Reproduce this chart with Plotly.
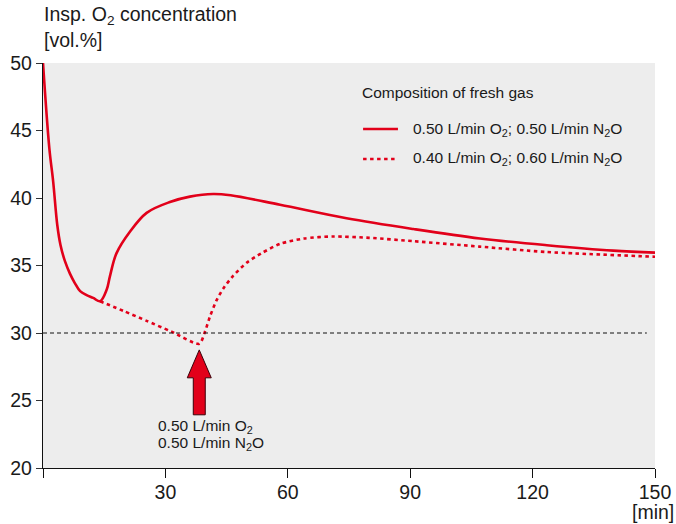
import plotly.graph_objects as go

# Inspired O2 concentration over time for two fresh-gas compositions
t_solid = [0, 1.55, 2.5, 3.5, 4.3, 5.4, 6.6, 7.8, 9.1, 10.7, 12.3, 14.0, 15.6, 16.4, 18.0,
           21.3, 25.4, 31.1, 36.0, 41.7, 46.0, 58.1, 74.4, 90.8, 107.1, 123.5, 139.8, 150]
v_solid = [50, 43.7, 41.2, 38.0, 36.5, 35.3, 34.4, 33.7, 33.1, 32.8, 32.6, 32.35, 33.2, 34.2, 35.9,
           37.5, 38.9, 39.7, 40.1, 40.3, 40.2, 39.5, 38.5, 37.7, 37.0, 36.5, 36.1, 35.95]

t_dot = [14.0, 20.0, 25.4, 31.5, 38.3, 39.7, 40.9, 42.5, 44.2, 46.5, 49.9, 53.5,
         58.1, 64.0, 71.1, 80.0, 90.8, 107.0, 123.4, 150]
v_dot = [32.35, 31.6, 30.9, 30.1, 29.2, 30.1, 31.2, 32.4, 33.3, 34.2, 35.2, 35.9,
         36.6, 37.0, 37.15, 37.05, 36.8, 36.4, 36.0, 35.65]

threshold = 30
x_ticks = [0, 30, 60, 90, 120, 150]
x_ticktext = ["", "30", "60", "90", "120", "150"]
y_ticks = [20, 25, 30, 35, 40, 45, 50]

legend_title = "Composition of fresh gas"
name_solid = "0.50 L/min O<sub>2</sub>; 0.50 L/min N<sub>2</sub>O"
name_dot = "0.40 L/min O<sub>2</sub>; 0.60 L/min N<sub>2</sub>O"
switch_label = ["0.50 L/min O<sub>2</sub>", "0.50 L/min N<sub>2</sub>O"]

RED = "#e2001a"
FONT = "Liberation Sans, Arial, sans-serif"
TXT = "#1a1a1a"
SMALL = 15.5
BIG = 19.5

fig = go.Figure()
fig.add_trace(go.Scatter(x=t_solid, y=v_solid, mode="lines",
                         line=dict(color=RED, width=2.6, shape="spline", smoothing=1.0),
                         showlegend=False, hoverinfo="skip"))
fig.add_trace(go.Scatter(x=t_dot, y=v_dot, mode="lines",
                         line=dict(color=RED, width=2.6, dash="3.5px,3.5px",
                                   shape="spline", smoothing=0.7),
                         showlegend=False, hoverinfo="skip"))

# threshold line
fig.add_shape(type="line", xref="x", yref="y", x0=0, x1=148, y0=threshold, y1=threshold,
              line=dict(color="#111", width=1, dash="4px,3px"))

# upward arrow marking the switch of fresh gas, placed just below the dotted minimum
i_min = v_dot.index(min(v_dot))
at = t_dot[i_min]
tip = v_dot[i_min] - 0.45
head_base = tip - 2.07
tail = tip - 4.81
hw, sw = 2.94, 1.47
path = (f"M {at} {tip} L {at + hw} {head_base} L {at + sw} {head_base} "
        f"L {at + sw} {tail} L {at - sw} {tail} L {at - sw} {head_base} "
        f"L {at - hw} {head_base} Z")
fig.add_shape(type="path", xref="x", yref="y", path=path,
              fillcolor=RED, line=dict(color="#3a0008", width=1))

for k, txt in enumerate(switch_label):
    fig.add_annotation(x=27.6, y=23.06 - 1.28 * k, xref="x", yref="y", text=txt,
                       showarrow=False, xanchor="left", yanchor="middle",
                       font=dict(family=FONT, size=SMALL, color=TXT))

# legend, drawn by hand
fig.add_annotation(x=0.518, y=0.926, xref="paper", yref="paper", text=legend_title,
                   showarrow=False, xanchor="left", yanchor="middle",
                   font=dict(family=FONT, size=SMALL, color=TXT))
for yy, txt, dash in [(0.837, name_solid, "solid"), (0.763, name_dot, "3.5px,3.5px")]:
    fig.add_shape(type="line", xref="paper", yref="paper", x0=0.523, x1=0.580, y0=yy, y1=yy,
                  line=dict(color=RED, width=2.6, dash=dash))
    fig.add_annotation(x=0.6013, y=yy, xref="paper", yref="paper", text=txt,
                       showarrow=False, xanchor="left", yanchor="middle",
                       font=dict(family=FONT, size=SMALL, color=TXT))

# axis titles
fig.add_annotation(x=-0.002, y=1.1185, xref="paper", yref="paper",
                   text="Insp. O<sub>2</sub> concentration", showarrow=False,
                   xanchor="left", yanchor="middle", font=dict(family=FONT, size=BIG, color=TXT))
fig.add_annotation(x=-0.002, y=1.0568, xref="paper", yref="paper", text="[vol.%]",
                   showarrow=False, xanchor="left", yanchor="middle",
                   font=dict(family=FONT, size=BIG, color=TXT))
fig.add_annotation(x=1.034, y=-0.1086, xref="paper", yref="paper", text="[min]",
                   showarrow=False, xanchor="right", yanchor="middle",
                   font=dict(family=FONT, size=BIG, color=TXT))

fig.update_xaxes(range=[0, 150], tickvals=x_ticks, ticktext=x_ticktext, automargin=False,
                 ticks="outside", ticklen=9, tickwidth=1.2, tickcolor="#111",
                 ticklabelstandoff=-3,
                 showline=True, linecolor="#111", linewidth=1.3, showgrid=False,
                 zeroline=False, tickfont=dict(family=FONT, size=BIG, color=TXT))
fig.update_yaxes(range=[20, 50], tickvals=y_ticks, automargin=False,
                 ticks="outside", ticklen=6, tickwidth=1.4, tickcolor="#333",
                 showline=True, linecolor="#111", linewidth=1.3, showgrid=False,
                 zeroline=False, tickfont=dict(family=FONT, size=BIG, color=TXT))

fig.update_layout(width=676, height=524, margin=dict(l=43, r=21, t=63, b=56),
                  plot_bgcolor="#ededed", paper_bgcolor="white", showlegend=False)

fig.write_html("out.html")
